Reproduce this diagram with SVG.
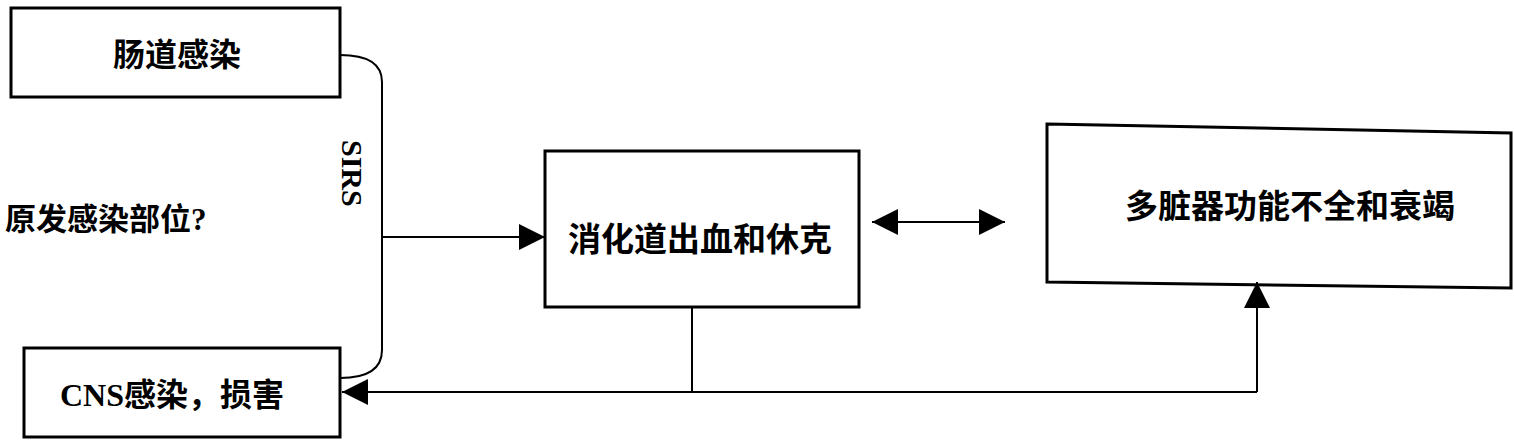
<svg xmlns="http://www.w3.org/2000/svg" width="1514" height="443" viewBox="0 0 1514 443">
<style>
.box{fill:#fff;stroke:#000;stroke-width:3}
.ln{fill:none;stroke:#000;stroke-width:2}
.t{font-family:"Liberation Serif","Noto Sans CJK SC",serif;fill:#000;font-weight:bold}
</style>
<defs>
<marker id="big" viewBox="0 0 10 10" refX="10" refY="5" markerWidth="26" markerHeight="26" markerUnits="userSpaceOnUse" orient="auto-start-reverse">
<path d="M0,0 L10,5 L0,10 Z" fill="#000"/>
</marker>
</defs>
<rect width="1514" height="443" fill="#fff"/>
<g id="n1"><rect class="box" x="11" y="8" width="329" height="89"/><text class="t" x="177" y="66" font-size="32" text-anchor="middle">肠道感染</text></g>
<g id="n2"><rect class="box" x="24" y="348" width="316" height="89"/><text class="t" x="172" y="406" font-size="32" text-anchor="middle">CNS感染，损害</text></g>
<g id="n3"><rect class="box" x="545" y="151" width="314" height="156"/><text class="t" x="700" y="251" font-size="33" text-anchor="middle" font-weight="normal">消化道出血和休克</text></g>
<g id="n4"><polygon class="box" points="1047,124 1511,133 1511,288 1047,282"/><text class="t" x="1290" y="218" font-size="33" text-anchor="middle">多脏器功能不全和衰竭</text></g>
<text class="t" x="5" y="230" font-size="31">原发感染部位?</text>
<text class="t" font-size="30" transform="translate(342,140) rotate(90)">SIRS</text>
<g id="connectors">
<path class="ln" d="M340,55 Q382,55 382,82 L382,350 Q382,378 340,378"/>
<path class="ln" d="M382,237 L545,237" marker-end="url(#big)"/>
<path class="ln" d="M872,222 L1005,222" stroke-width="3" marker-start="url(#big)" marker-end="url(#big)"/>
<path class="ln" d="M692,307 L692,392"/>
<path class="ln" d="M1257,392 L342,392" marker-end="url(#big)"/>
<path class="ln" d="M1257,392 L1257,282" marker-end="url(#big)"/>
</g>
</svg>
